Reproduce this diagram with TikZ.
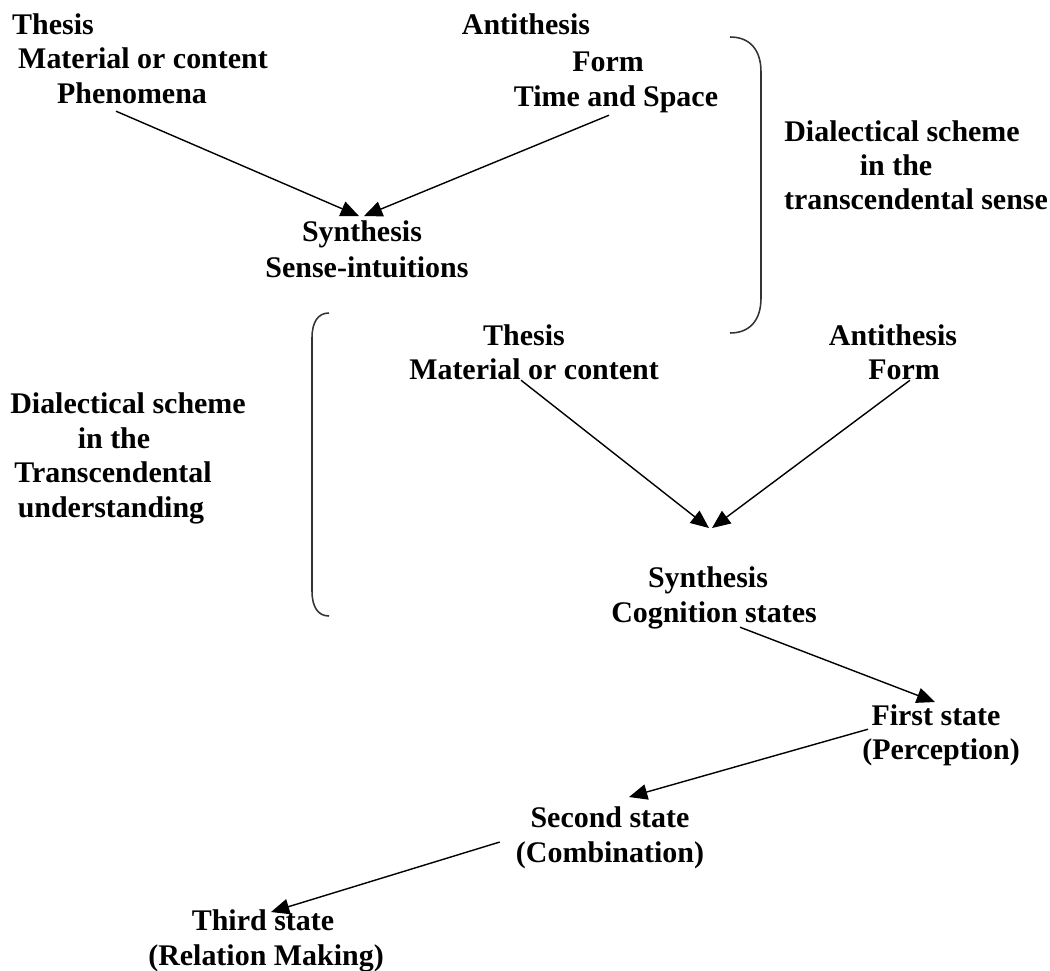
\documentclass[tikz,border=0pt]{standalone}
\usepackage{fontspec}
\setmainfont{Liberation Serif}
\usetikzlibrary{arrows.meta}

\begin{document}
\begin{tikzpicture}[x=0.025cm,y=-0.025cm,
    lbl/.style={font=\bfseries\fontsize{21.3}{24}\selectfont, inner sep=0pt, anchor=base, text height=14pt, text depth=3.5pt},
    conn/.style={-{Triangle[length=13pt,width=11pt]}, line width=1pt},
    brace/.style={line width=1.1pt, color=black!80}]
    \useasboundingbox (0,0) rectangle (1050,971);
    \node[lbl] (thA) at (53,35) {Thesis};
    \node[lbl] (thAmat) at (143,69) {Material or content};
    \node[lbl] (thAphen) at (132,104) {Phenomena};
    \node[lbl] (antA) at (526,35) {Antithesis};
    \node[lbl] (antAform) at (608,72) {Form};
    \node[lbl] (antAtime) at (616,107) {Time and Space};
    \node[lbl] (synA) at (362,242) {Synthesis};
    \node[lbl] (synAsense) at (367,277) {Sense-intuitions};
    \node[lbl] (schA) at (902,142) {Dialectical scheme};
    \node[lbl] (schAin) at (896,176) {in the};
    \node[lbl] (schAtr) at (916,210) {transcendental sense};
    \node[lbl] (schB) at (128,413) {Dialectical scheme};
    \node[lbl] (schBin) at (114,448) {in the};
    \node[lbl] (schBtr) at (113,482) {Transcendental};
    \node[lbl] (schBund) at (111,517) {understanding};
    \node[lbl] (thB) at (524,345) {Thesis};
    \node[lbl] (thBmat) at (534,379) {Material or content};
    \node[lbl] (antB) at (893,345) {Antithesis};
    \node[lbl] (antBform) at (904,379) {Form};
    \node[lbl] (synB) at (708,587) {Synthesis};
    \node[lbl] (synBcog) at (714,622) {Cognition states};
    \node[lbl] (first) at (936,725) {First state};
    \node[lbl] (perc) at (941,759) {(Perception)};
    \node[lbl] (second) at (610,827) {Second state};
    \node[lbl] (comb) at (610,862) {(Combination)};
    \node[lbl] (third) at (263,930) {Third state};
    \node[lbl] (rel) at (266,965) {(Relation Making)};
    \draw[conn] ([shift={(-16,2)}]thAphen.south) -- ([shift={(-3,-6)}]synA.north);
    \draw[conn] ([shift={(-7,3)}]antAtime.south) -- ([shift={(2,-6)}]synA.north);
    \draw[conn] ([shift={(-13,-4)}]thBmat.south) -- ([shift={(1,-39)}]synB.north);
    \draw[conn] ([shift={(6,-4)}]antBform.south) -- ([shift={(4,-39)}]synB.north);
    \draw[conn] ([shift={(26,0)}]synBcog.south) -- ([shift={(-1,-3)}]first.north);
    \draw[conn] ([shift={(-68,-1)}]first.south) -- ([shift={(19,-10)}]second.north);
    \draw[conn] ([shift={(-16,0)}]comb.north west) -- ([shift={(8,2)}]third.north);
    \draw[brace] (730,37) .. controls (750,37) and (761,50) .. (761,72) -- (761,298) .. controls (761,320) and (750,333) .. (730,333);
    \draw[brace] (329,313) .. controls (318,313) and (312,322) .. (312,338) -- (312,591) .. controls (312,607) and (318,616) .. (329,616);
\end{tikzpicture}
\end{document}
